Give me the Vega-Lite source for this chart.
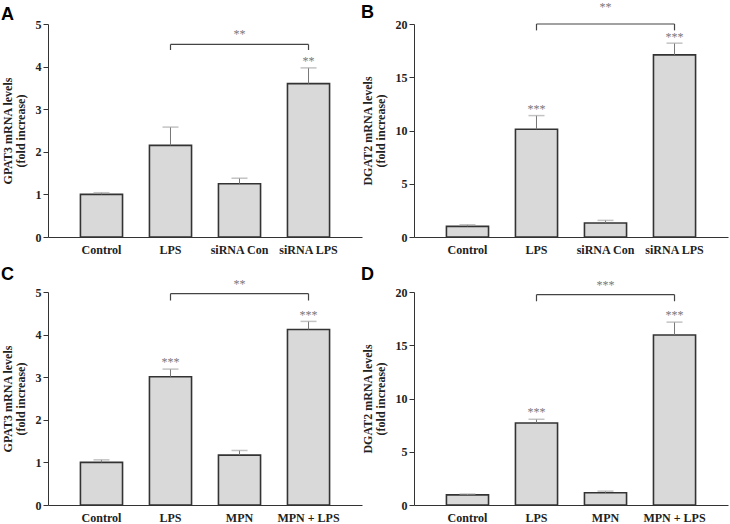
{
  "$schema": "https://vega.github.io/schema/vega-lite/v6.json",
  "background": "white",
  "padding": {"top": 0, "left": 1, "right": 2, "bottom": 0},
  "config": {
    "view": {"stroke": null},
    "axis": {"labelFont": "Liberation Serif", "labelFontWeight": "bold", "labelFontSize": 12, "labelColor": "#222", "titleFont": "Liberation Serif", "titleFontWeight": "bold", "titleFontSize": 12, "titleColor": "#222", "domainColor": "#333", "tickColor": "#333", "grid": false},
    "title": {"font": "Liberation Sans", "fontSize": 18, "fontWeight": "bold", "color": "#000", "anchor": "start", "frame": "bounds"}
  },
  "datasets": {
    "A": [
      {"cond": "Control", "mean": 1.0, "err": 1.04, "star": "", "sy": 0},
      {"cond": "LPS", "mean": 2.15, "err": 2.58, "star": "", "sy": 0},
      {"cond": "siRNA Con", "mean": 1.25, "err": 1.38, "star": "", "sy": 0},
      {"cond": "siRNA LPS", "mean": 3.6, "err": 3.97, "star": "**", "sy": 4.2}
    ],
    "Ab": [
      {"type": "seg", "x": "LPS", "x2": "siRNA LPS", "y": 4.52, "y2": 4.52},
      {"type": "seg", "x": "LPS", "x2": "LPS", "y": 4.52, "y2": 4.39},
      {"type": "seg", "x": "siRNA LPS", "x2": "siRNA LPS", "y": 4.52, "y2": 4.39},
      {"type": "lab", "x": "siRNA Con", "x2": "siRNA Con", "y": 4.84, "y2": 4.84, "label": "**"}
    ],
    "B": [
      {"cond": "Control", "mean": 1.0, "err": 1.15, "star": "", "sy": 0},
      {"cond": "LPS", "mean": 10.12, "err": 11.4, "star": "***", "sy": 12.3},
      {"cond": "siRNA Con", "mean": 1.31, "err": 1.56, "star": "", "sy": 0},
      {"cond": "siRNA LPS", "mean": 17.1, "err": 18.2, "star": "***", "sy": 19.1}
    ],
    "Bb": [
      {"type": "seg", "x": "LPS", "x2": "siRNA LPS", "y": 20.0, "y2": 20.0},
      {"type": "seg", "x": "LPS", "x2": "LPS", "y": 20.0, "y2": 19.4},
      {"type": "seg", "x": "siRNA LPS", "x2": "siRNA LPS", "y": 20.0, "y2": 19.4},
      {"type": "lab", "x": "siRNA Con", "x2": "siRNA Con", "y": 21.9, "y2": 21.9, "label": "**"}
    ],
    "C": [
      {"cond": "Control", "mean": 1.0, "err": 1.06, "star": "", "sy": 0},
      {"cond": "LPS", "mean": 3.01, "err": 3.19, "star": "***", "sy": 3.42},
      {"cond": "MPN", "mean": 1.17, "err": 1.28, "star": "", "sy": 0},
      {"cond": "MPN + LPS", "mean": 4.12, "err": 4.31, "star": "***", "sy": 4.53}
    ],
    "Cb": [
      {"type": "seg", "x": "LPS", "x2": "MPN + LPS", "y": 4.96, "y2": 4.96},
      {"type": "seg", "x": "LPS", "x2": "LPS", "y": 4.96, "y2": 4.8},
      {"type": "seg", "x": "MPN + LPS", "x2": "MPN + LPS", "y": 4.96, "y2": 4.8},
      {"type": "lab", "x": "MPN", "x2": "MPN", "y": 5.25, "y2": 5.25, "label": "**"}
    ],
    "D": [
      {"cond": "Control", "mean": 0.95, "err": 1.03, "star": "", "sy": 0},
      {"cond": "LPS", "mean": 7.7, "err": 8.05, "star": "***", "sy": 9.0},
      {"cond": "MPN", "mean": 1.15, "err": 1.3, "star": "", "sy": 0},
      {"cond": "MPN + LPS", "mean": 15.96, "err": 17.17, "star": "***", "sy": 18.1}
    ],
    "Db": [
      {"type": "seg", "x": "LPS", "x2": "MPN + LPS", "y": 19.75, "y2": 19.75},
      {"type": "seg", "x": "LPS", "x2": "LPS", "y": 19.75, "y2": 19.13},
      {"type": "seg", "x": "MPN + LPS", "x2": "MPN + LPS", "y": 19.75, "y2": 19.13},
      {"type": "lab", "x": "MPN", "x2": "MPN", "y": 20.9, "y2": 20.9, "label": "***"}
    ]
  },
  "columns": 2,
  "bounds": "flush",
  "spacing": {"row": 55, "column": 52},
  "concat": [
    {
      "title": {"text": "A", "offset": -6},
      "width": 314, "height": 213,
      "layer": [
        {
          "data": {"name": "A"},
          "mark": {"type": "bar", "fill": "#d9d9d9", "stroke": "#333", "strokeWidth": 1.6},
          "encoding": {
            "x": {"field": "cond", "type": "nominal", "sort": null, "scale": {"paddingInner": 0.39, "paddingOuter": 0.47}, "axis": {"title": null, "labelAngle": 0, "ticks": false, "labelPadding": 7}},
            "y": {"field": "mean", "type": "quantitative", "scale": {"domain": [0, 5], "nice": false}, "axis": {"values": [0, 1, 2, 3, 4, 5], "title": ["GPAT3 mRNA levels", "(fold increase)"], "tickSize": 5, "titlePadding": 8, "titleLineHeight": 13}}
          }
        },
        {
          "data": {"name": "A"},
          "mark": {"type": "rule", "color": "#777", "strokeWidth": 1},
          "encoding": {"x": {"field": "cond", "type": "nominal", "sort": null}, "y": {"field": "mean", "type": "quantitative"}, "y2": {"field": "err"}}
        },
        {
          "data": {"name": "A"},
          "mark": {"type": "tick", "color": "#aaa", "size": 16, "thickness": 1.5},
          "encoding": {"x": {"field": "cond", "type": "nominal", "sort": null}, "y": {"field": "err", "type": "quantitative"}}
        },
        {
          "data": {"name": "A"},
          "transform": [{"filter": "datum.star != ''"}],
          "mark": {"type": "text", "font": "Liberation Serif", "fontSize": 12, "color": "#777", "baseline": "middle", "dy": 3},
          "encoding": {"x": {"field": "cond", "type": "nominal", "sort": null}, "y": {"field": "sy", "type": "quantitative"}, "text": {"field": "star"}}
        },
        {
          "data": {"name": "Ab"},
          "transform": [{"filter": "datum.type == 'seg'"}],
          "mark": {"type": "rule", "color": "#444", "strokeWidth": 1.2},
          "encoding": {"x": {"field": "x", "type": "nominal", "sort": null}, "x2": {"field": "x2"}, "y": {"field": "y", "type": "quantitative"}, "y2": {"field": "y2"}}
        },
        {
          "data": {"name": "Ab"},
          "transform": [{"filter": "datum.type == 'lab'"}],
          "mark": {"type": "text", "font": "Liberation Serif", "fontSize": 12, "color": "#777", "baseline": "middle", "dy": 3},
          "encoding": {"x": {"field": "x", "type": "nominal", "sort": null}, "y": {"field": "y", "type": "quantitative"}, "text": {"field": "label"}}
        }
      ]
    },
    {
      "title": {"text": "B", "offset": -21},
      "width": 314, "height": 213,
      "layer": [
        {
          "data": {"name": "B"},
          "mark": {"type": "bar", "fill": "#d9d9d9", "stroke": "#333", "strokeWidth": 1.6},
          "encoding": {
            "x": {"field": "cond", "type": "nominal", "sort": null, "scale": {"paddingInner": 0.39, "paddingOuter": 0.47}, "axis": {"title": null, "labelAngle": 0, "ticks": false, "labelPadding": 7}},
            "y": {"field": "mean", "type": "quantitative", "scale": {"domain": [0, 20], "nice": false}, "axis": {"values": [0, 5, 10, 15, 20], "title": ["DGAT2 mRNA levels", "(fold increase)"], "tickSize": 5, "titlePadding": 8, "titleLineHeight": 13}}
          }
        },
        {
          "data": {"name": "B"},
          "mark": {"type": "rule", "color": "#777", "strokeWidth": 1},
          "encoding": {"x": {"field": "cond", "type": "nominal", "sort": null}, "y": {"field": "mean", "type": "quantitative"}, "y2": {"field": "err"}}
        },
        {
          "data": {"name": "B"},
          "mark": {"type": "tick", "color": "#aaa", "size": 16, "thickness": 1.5},
          "encoding": {"x": {"field": "cond", "type": "nominal", "sort": null}, "y": {"field": "err", "type": "quantitative"}}
        },
        {
          "data": {"name": "B"},
          "transform": [{"filter": "datum.star != ''"}],
          "mark": {"type": "text", "font": "Liberation Serif", "fontSize": 12, "color": "#777", "baseline": "middle", "dy": 3},
          "encoding": {"x": {"field": "cond", "type": "nominal", "sort": null}, "y": {"field": "sy", "type": "quantitative"}, "text": {"field": "star"}}
        },
        {
          "data": {"name": "Bb"},
          "transform": [{"filter": "datum.type == 'seg'"}],
          "mark": {"type": "rule", "color": "#444", "strokeWidth": 1.2},
          "encoding": {"x": {"field": "x", "type": "nominal", "sort": null}, "x2": {"field": "x2"}, "y": {"field": "y", "type": "quantitative"}, "y2": {"field": "y2"}}
        },
        {
          "data": {"name": "Bb"},
          "transform": [{"filter": "datum.type == 'lab'"}],
          "mark": {"type": "text", "font": "Liberation Serif", "fontSize": 12, "color": "#777", "baseline": "middle", "dy": 3},
          "encoding": {"x": {"field": "x", "type": "nominal", "sort": null}, "y": {"field": "y", "type": "quantitative"}, "text": {"field": "label"}}
        }
      ]
    },
    {
      "title": {"text": "C", "offset": -6},
      "width": 314, "height": 213,
      "layer": [
        {
          "data": {"name": "C"},
          "mark": {"type": "bar", "fill": "#d9d9d9", "stroke": "#333", "strokeWidth": 1.6},
          "encoding": {
            "x": {"field": "cond", "type": "nominal", "sort": null, "scale": {"paddingInner": 0.39, "paddingOuter": 0.47}, "axis": {"title": null, "labelAngle": 0, "ticks": false, "labelPadding": 7}},
            "y": {"field": "mean", "type": "quantitative", "scale": {"domain": [0, 5], "nice": false}, "axis": {"values": [0, 1, 2, 3, 4, 5], "title": ["GPAT3 mRNA levels", "(fold increase)"], "tickSize": 5, "titlePadding": 8, "titleLineHeight": 13}}
          }
        },
        {
          "data": {"name": "C"},
          "mark": {"type": "rule", "color": "#777", "strokeWidth": 1},
          "encoding": {"x": {"field": "cond", "type": "nominal", "sort": null}, "y": {"field": "mean", "type": "quantitative"}, "y2": {"field": "err"}}
        },
        {
          "data": {"name": "C"},
          "mark": {"type": "tick", "color": "#aaa", "size": 16, "thickness": 1.5},
          "encoding": {"x": {"field": "cond", "type": "nominal", "sort": null}, "y": {"field": "err", "type": "quantitative"}}
        },
        {
          "data": {"name": "C"},
          "transform": [{"filter": "datum.star != ''"}],
          "mark": {"type": "text", "font": "Liberation Serif", "fontSize": 12, "color": "#777", "baseline": "middle", "dy": 3},
          "encoding": {"x": {"field": "cond", "type": "nominal", "sort": null}, "y": {"field": "sy", "type": "quantitative"}, "text": {"field": "star"}}
        },
        {
          "data": {"name": "Cb"},
          "transform": [{"filter": "datum.type == 'seg'"}],
          "mark": {"type": "rule", "color": "#444", "strokeWidth": 1.2},
          "encoding": {"x": {"field": "x", "type": "nominal", "sort": null}, "x2": {"field": "x2"}, "y": {"field": "y", "type": "quantitative"}, "y2": {"field": "y2"}}
        },
        {
          "data": {"name": "Cb"},
          "transform": [{"filter": "datum.type == 'lab'"}],
          "mark": {"type": "text", "font": "Liberation Serif", "fontSize": 12, "color": "#777", "baseline": "middle", "dy": 3},
          "encoding": {"x": {"field": "x", "type": "nominal", "sort": null}, "y": {"field": "y", "type": "quantitative"}, "text": {"field": "label"}}
        }
      ]
    },
    {
      "title": {"text": "D", "offset": -5},
      "width": 314, "height": 213,
      "layer": [
        {
          "data": {"name": "D"},
          "mark": {"type": "bar", "fill": "#d9d9d9", "stroke": "#333", "strokeWidth": 1.6},
          "encoding": {
            "x": {"field": "cond", "type": "nominal", "sort": null, "scale": {"paddingInner": 0.39, "paddingOuter": 0.47}, "axis": {"title": null, "labelAngle": 0, "ticks": false, "labelPadding": 7}},
            "y": {"field": "mean", "type": "quantitative", "scale": {"domain": [0, 20], "nice": false}, "axis": {"values": [0, 5, 10, 15, 20], "title": ["DGAT2 mRNA levels", "(fold increase)"], "tickSize": 5, "titlePadding": 8, "titleLineHeight": 13}}
          }
        },
        {
          "data": {"name": "D"},
          "mark": {"type": "rule", "color": "#777", "strokeWidth": 1},
          "encoding": {"x": {"field": "cond", "type": "nominal", "sort": null}, "y": {"field": "mean", "type": "quantitative"}, "y2": {"field": "err"}}
        },
        {
          "data": {"name": "D"},
          "mark": {"type": "tick", "color": "#aaa", "size": 16, "thickness": 1.5},
          "encoding": {"x": {"field": "cond", "type": "nominal", "sort": null}, "y": {"field": "err", "type": "quantitative"}}
        },
        {
          "data": {"name": "D"},
          "transform": [{"filter": "datum.star != ''"}],
          "mark": {"type": "text", "font": "Liberation Serif", "fontSize": 12, "color": "#777", "baseline": "middle", "dy": 3},
          "encoding": {"x": {"field": "cond", "type": "nominal", "sort": null}, "y": {"field": "sy", "type": "quantitative"}, "text": {"field": "star"}}
        },
        {
          "data": {"name": "Db"},
          "transform": [{"filter": "datum.type == 'seg'"}],
          "mark": {"type": "rule", "color": "#444", "strokeWidth": 1.2},
          "encoding": {"x": {"field": "x", "type": "nominal", "sort": null}, "x2": {"field": "x2"}, "y": {"field": "y", "type": "quantitative"}, "y2": {"field": "y2"}}
        },
        {
          "data": {"name": "Db"},
          "transform": [{"filter": "datum.type == 'lab'"}],
          "mark": {"type": "text", "font": "Liberation Serif", "fontSize": 12, "color": "#777", "baseline": "middle", "dy": 3},
          "encoding": {"x": {"field": "x", "type": "nominal", "sort": null}, "y": {"field": "y", "type": "quantitative"}, "text": {"field": "label"}}
        }
      ]
    }
  ]
}
